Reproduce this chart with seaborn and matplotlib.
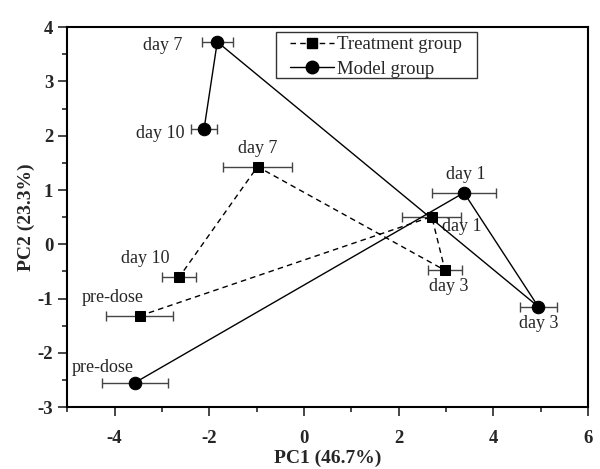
import numpy as np
import pandas as pd
import matplotlib
matplotlib.use("Agg")
import matplotlib.pyplot as plt
from matplotlib.patches import Rectangle
from matplotlib.ticker import MultipleLocator
import seaborn as sns

sns.set_style("ticks")
plt.rcParams['font.family'] = ['Liberation Serif', 'DejaVu Serif']
plt.rcParams['axes.unicode_minus'] = False

# PCA scores (order: pre-dose, day 1, day 3, day 7, day 10)
days = ["pre-dose", "day 1", "day 3", "day 7", "day 10"]
treat_pc1 = [-3.47, 2.70, 2.98, -0.98, -2.63]
treat_pc2 = [-1.32, 0.51, -0.48, 1.43, -0.60]
treat_err = [0.71, 0.62, 0.35, 0.72, 0.36]
model_pc1 = [-3.57, 3.38, 4.95, -1.83, -2.11]
model_pc2 = [-2.55, 0.95, -1.15, 3.73, 2.12]
model_err = [0.69, 0.67, 0.39, 0.33, 0.27]

df = pd.concat([
    pd.DataFrame({"pc1": treat_pc1, "pc2": treat_pc2, "err": treat_err,
                  "day": days, "group": "Treatment group"}),
    pd.DataFrame({"pc1": model_pc1, "pc2": model_pc2, "err": model_err,
                  "day": days, "group": "Model group"}),
], ignore_index=True)

# label offsets in pixels (dx, dy, ha)
treat_lbl = [(-27, 18, 'center'), (30, -10, 'center'), (4, -16, 'center'),
             (0, 18, 'center'), (-34, 18, 'center')]
model_lbl = [(-32, 15, 'center'), (2, 18, 'center'), (0, -17, 'center'),
             (-35, -4, 'right'), (-20, -4, 'right')]

fig, ax = plt.subplots(figsize=(6, 4.69), dpi=100)
fig.subplots_adjust(left=0.112, right=0.98, bottom=0.132, top=0.942)

styles = {"Treatment group": dict(marker='s', ls=(0, (4, 3)), ms=7.5, lbl=treat_lbl),
          "Model group": dict(marker='o', ls='-', ms=9, lbl=model_lbl)}

handles = []
for grp, st in styles.items():
    d = df[df["group"] == grp]
    ax.errorbar(d["pc1"], d["pc2"], xerr=d["err"], fmt='none', ecolor='#444444',
                elinewidth=1, capsize=3.5, capthick=1, zorder=2)
    sns.lineplot(x=d["pc1"].values, y=d["pc2"].values, sort=False, ax=ax,
                 color='black', linewidth=1, linestyle=st['ls'],
                 marker=st['marker'], markersize=st['ms'],
                 markeredgecolor='black', zorder=3)
    h, = ax.plot([], [], color='black', linewidth=1, linestyle=st['ls'],
                 marker=st['marker'], markersize=st['ms'])
    handles.append(h)
    for (x, y, lab), (dx, dy, ha) in zip(d[["pc1", "pc2", "day"]].values, st['lbl']):
        ax.annotate(lab, (x, y), xytext=(dx, dy), textcoords='offset pixels',
                    ha=ha, va='center', fontsize=13)

ax.set_xlim(-5, 6)
ax.set_ylim(-3, 4)
ax.xaxis.set_major_locator(MultipleLocator(2))
ax.xaxis.set_minor_locator(MultipleLocator(1))
ax.yaxis.set_major_locator(MultipleLocator(1))
ax.yaxis.set_minor_locator(MultipleLocator(0.5))
ax.tick_params(which='major', direction='out', length=6.5, width=1.2,
               labelsize=13.5, top=False, right=False)
ax.tick_params(which='minor', direction='out', length=3.5, width=1.2,
               top=False, right=False)
ax.tick_params(axis='x', which='major', pad=10)
for t in ax.get_xticklabels() + ax.get_yticklabels():
    t.set_fontweight('bold')
for s in ax.spines.values():
    s.set_linewidth(1.5)
    s.set_color('black')

ax.set_xlabel("PC1 (46.7%)", fontsize=14, fontweight='bold', va='center')
ax.xaxis.set_label_coords(0.5, -0.135)
ax.set_ylabel("PC2 (23.3%)", fontsize=14, fontweight='bold', va='center')
ax.yaxis.set_label_coords(-0.078, 0.5)

# legend: frame drawn separately so the padding matches the original
ax.add_patch(Rectangle((0.401, 0.866), 0.386, 0.121, transform=ax.transAxes,
                       fill=False, edgecolor='#333333', linewidth=1, zorder=5))
leg = ax.legend(handles, list(styles.keys()), loc='center left',
                bbox_to_anchor=(0.428, 0.922), borderaxespad=0, borderpad=0,
                frameon=False, fontsize=13.5, handlelength=2.35,
                labelspacing=0.4, handletextpad=0.16)

fig.savefig("out.png", dpi=100)
